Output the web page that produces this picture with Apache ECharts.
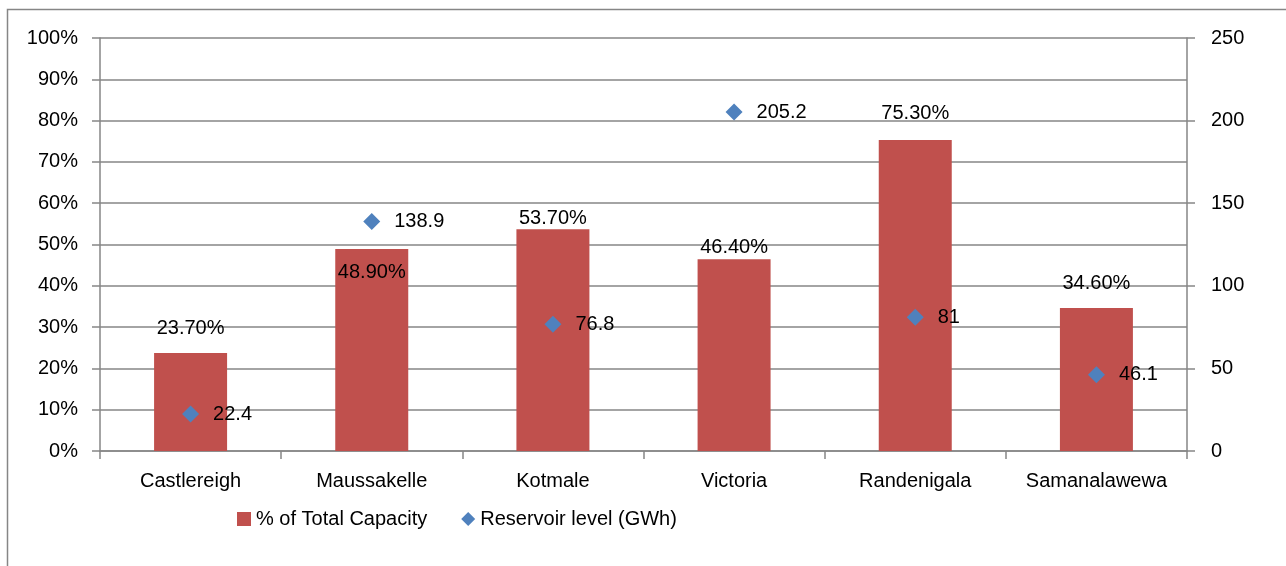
<!DOCTYPE html>
<html><head><meta charset="utf-8">
<script src="https://cdn.jsdelivr.net/npm/echarts@6/dist/echarts.min.js"></script>
<style>html,body{margin:0;padding:0;background:#fff}#c{width:1286px;height:566px}</style>
</head><body><div id="c"></div>
<script>
const categories = ['Castlereigh','Maussakelle','Kotmale','Victoria','Randenigala','Samanalawewa'];
const pctCapacity = [23.7, 48.9, 53.7, 46.4, 75.3, 34.6];
const reservoirGWh = [22.4, 138.9, 76.8, 205.2, 81, 46.1];
const pctLabelOffsets = [-10, 38, 4, 3, -12, -10];

const font = "'Liberation Sans', Arial, sans-serif";
const fs = 20;
const gray = '#868686';
const chart = echarts.init(document.getElementById('c'));
chart.setOption({
  animation: false,
  textStyle: {fontFamily: font},
  graphic: [{type:'rect', shape:{x:7.5,y:9.5,width:1300,height:600}, style:{fill:'none', stroke:gray, lineWidth:1.5}, silent:true}],
  grid: {left:100, right:99, top:38, bottom:115},
  legend: {
    left: 232, top: 504, itemGap: 34, itemWidth: 14, itemHeight: 14,
    textStyle: {fontSize: fs, color:'#000', fontFamily: font},
    data: [{name:'% of Total Capacity', icon:'rect'}, {name:'Reservoir level (GWh)', icon:'diamond'}]
  },
  xAxis: {
    type:'category', data: categories,
    axisLine:{lineStyle:{color:gray, width:1.5}},
    axisTick:{show:true, interval:0, length:8, lineStyle:{color:gray, width:1.5}},
    axisLabel:{interval:0, fontSize:fs, color:'#000', margin:20, fontFamily: font}
  },
  yAxis: [{
    type:'value', min:0, max:100, interval:10,
    axisLine:{show:true, lineStyle:{color:gray, width:1.5}},
    axisTick:{show:true, length:8, lineStyle:{color:gray, width:1.5}},
    splitLine:{lineStyle:{color:gray, width:1.5}},
    axisLabel:{fontSize:fs, color:'#000', margin:22, formatter:'{value}%', fontFamily: font}
  },{
    type:'value', min:0, max:250, interval:50, position:'right',
    axisLine:{show:true, lineStyle:{color:gray, width:1.5}},
    axisTick:{show:true, length:8, lineStyle:{color:gray, width:1.5}},
    splitLine:{show:false},
    axisLabel:{fontSize:fs, color:'#000', margin:24, fontFamily: font}
  }],
  series: [{
    name:'% of Total Capacity', type:'bar', yAxisIndex:0, barWidth:73,
    itemStyle:{color:'#C0504D'},
    data: pctCapacity.map((v,i)=>({value:v, label:{offset:[0,pctLabelOffsets[i]]}})),
    label:{show:true, position:'top', fontSize:fs, color:'#000', fontFamily: font,
      formatter: p => p.value.toFixed(2) + '%'}
  },{
    name:'Reservoir level (GWh)', type:'scatter', yAxisIndex:1, symbol:'diamond', symbolSize:17,
    itemStyle:{color:'#4F81BD', opacity:1},
    data: reservoirGWh,
    label:{show:true, position:'right', distance:14, fontSize:fs, color:'#000', opacity:1, fontFamily: font,
      formatter: p => String(p.value)}
  }]
});
</script></body></html>
